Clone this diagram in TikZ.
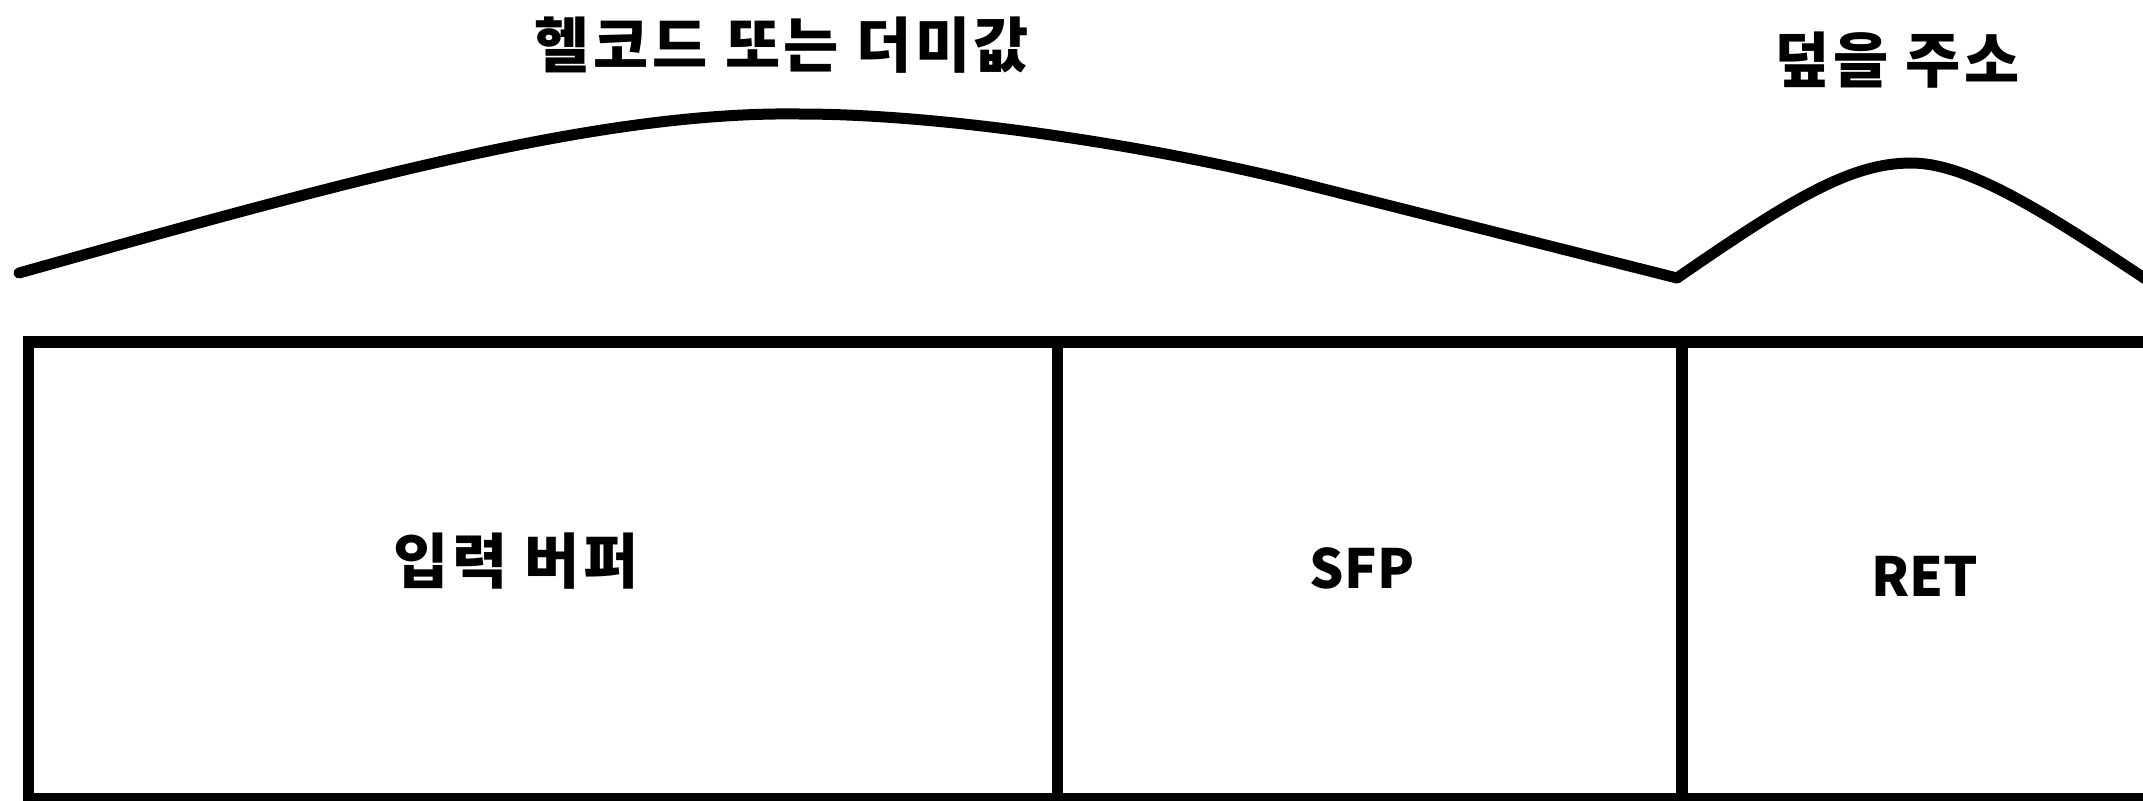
\documentclass[tikz,border=0pt]{standalone}
\usepackage{fontspec}
\newfontfamily\kr{Noto Sans CJK KR}
\begin{document}
\begin{tikzpicture}[x=0.5pt,y=-0.5pt,
  wall/.style={line width=#1, draw=black},
  hump/.style={line width=5.5pt, line cap=round, line join=round},
  krlabel/.style={font=\kr\bfseries\fontsize{30}{33}\selectfont\addfontfeatures{LetterSpace=6}, inner sep=0pt},
  latlabel/.style={font=\kr\bfseries\fontsize{27}{30}\selectfont, inner sep=0pt, anchor=base}]
\useasboundingbox (0,0) rectangle (2143,800);
\clip (0,0) rectangle (2143,800);
\fill[white] (0,0) rectangle (2143,800);
% buffer frame
\coordinate (tl) at (28.5,342);
\coordinate (tr) at (2170,342);
\coordinate (bl) at (28.5,799);
\coordinate (br) at (2170,799);
\draw[wall=6.2pt] ([xshift=-2.75pt]tl) -- (tr);
\draw[wall=5.5pt] (tl) -- (bl);
\draw[wall=6pt] ([xshift=-2.75pt]bl) -- (br);
\coordinate (d1t) at (1057.5,342); \coordinate (d1b) at (1057.5,799);
\coordinate (d2t) at (1682,342); \coordinate (d2b) at (1682,799);
\draw[wall=5.75pt] (d1t) -- (d1b);
\draw[wall=5.75pt] (d2t) -- (d2b);
% humps
\coordinate (h1a) at (19,273);
\coordinate (h1p) at (800,114);
\coordinate (h1m) at (1300,183);
\coordinate (h1b) at (1677,278);
\draw[hump] (h1a) .. controls (350,180) and (600,111) .. (h1p)
  .. controls (950,114) and (1160,148) .. (h1m) -- (h1b);
\coordinate (h2p) at (1911,163);
\coordinate (h2b) at (2165,292);
\draw[hump] (h1b) .. controls (1790,200) and (1850,163) .. (h2p)
  .. controls (1970,163) and (2050,215) .. (h2b);
% labels
\node[krlabel] (shell) at (782,45) {헬코드 또는 더미값};
\node[krlabel] (addr) at (1897,60) {덮을 주소};
\node[krlabel] (buf) at (516,561) {입력 버퍼};
\node[latlabel] (sfp) at (1362,588) {SFP};
\node[latlabel] (ret) at (1925,596) {RET};
\end{tikzpicture}
\end{document}
